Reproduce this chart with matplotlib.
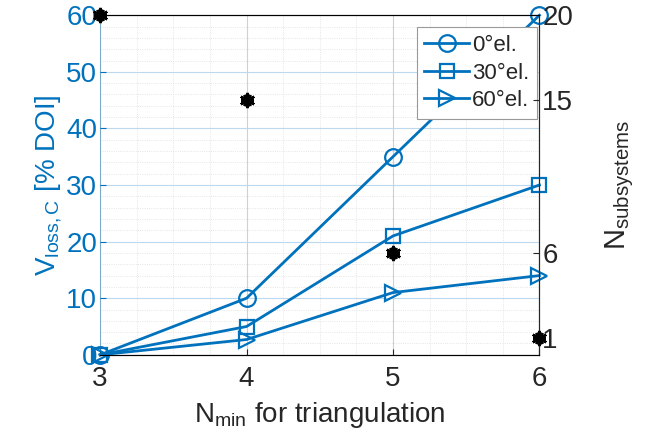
import matplotlib
matplotlib.use("Agg")
import matplotlib.pyplot as plt
from matplotlib.ticker import MultipleLocator

plt.rcParams["font.family"] = ["Liberation Sans", "DejaVu Sans"]
plt.rcParams["mathtext.fontset"] = "custom"
plt.rcParams["mathtext.rm"] = "Liberation Sans"
plt.rcParams["mathtext.it"] = "Liberation Sans"

# dados
n_min = [3, 4, 5, 6]
v_loss_0 = [0, 10, 35, 60]
v_loss_30 = [0, 5, 21, 30]
v_loss_60 = [0, 2.7, 11, 14]
n_subsystems = [20, 15, 6, 1]
labels = ["0°el.", "30°el.", "60°el."]

AZUL = "#0072BD"

fig = plt.figure(figsize=(6.46, 4.48), dpi=100)
ax = fig.add_axes([0.155, 0.208, 0.68, 0.758])
ax2 = ax.twinx()

for valores, marcador, nome in zip(
    [v_loss_0, v_loss_30, v_loss_60], ["o", "s", ">"], labels
):
    ax.plot(n_min, valores, color=AZUL, lw=2, marker=marcador, ms=12 if marcador != "s" else 10,
            mfc="none", mew=1.6, label=nome, clip_on=False, zorder=5)

# asterisco estilo MATLAB (linhas cruzadas)
ax2.plot(n_min, n_subsystems, ls="none", marker=(6, 2, 0), ms=11, mew=1.8,
         color="black", clip_on=False, zorder=6)
ax2.plot(n_min, n_subsystems, ls="none", marker=(6, 2, 30), ms=9, mew=1.8,
         color="black", clip_on=False, zorder=6)

ax.set_xlim(3, 6)
ax.set_ylim(0, 60)
ax2.set_ylim(0, 20)
ax.set_xticks(n_min)
ax.set_yticks(range(0, 61, 10))
ax2.set_yticks([1, 6, 15, 20])

ax.xaxis.set_minor_locator(MultipleLocator(0.25))
ax.yaxis.set_minor_locator(MultipleLocator(2.0))
ax.grid(which="major", axis="x", color="#d0d0d0", lw=0.8)
ax.grid(which="major", axis="y", color="#bcd8ee", lw=0.8)
ax.grid(which="minor", color="#dddddd", lw=0.6, ls=":")
ax.set_axisbelow(True)

ax.tick_params(axis="both", which="minor", length=0)
ax.tick_params(axis="x", which="major", labelsize=20, colors="#262626", length=4, direction="in", pad=8)
ax.tick_params(axis="y", which="major", labelsize=20, colors=AZUL, length=4, direction="in", pad=2)
ax2.tick_params(axis="y", labelsize=20, colors="#262626", length=4, direction="in", pad=2)

ax.spines["left"].set_color(AZUL)
ax.spines["left"].set_alpha(0.4)
for lado in ["top", "bottom", "right"]:
    ax.spines[lado].set_color("#262626")
ax2.spines["left"].set_visible(False)
ax2.spines["right"].set_color("#262626")

ax.set_xlabel(r"N$_{\mathrm{min}}$ for triangulation", fontsize=20, color="#262626", labelpad=6)
ax.set_ylabel(r"V$_{\mathrm{loss,C}}$ [% DOI]", fontsize=20, color=AZUL, labelpad=2)
ax2.set_ylabel(r"N$_{\mathrm{subsystems}}$", fontsize=21, color="#262626", labelpad=22)

leg = ax.legend(loc="upper right", bbox_to_anchor=(0.995, 0.965), fontsize=16,
                frameon=True, fancybox=False, edgecolor="#999999", framealpha=1,
                handlelength=2.0, handletextpad=0.15, borderpad=0.35, labelspacing=0.3,
                borderaxespad=0)
leg.get_frame().set_linewidth(0.8)
for t in leg.get_texts():
    t.set_color("#262626")

fig.savefig("out.png", dpi=100, facecolor="white")
